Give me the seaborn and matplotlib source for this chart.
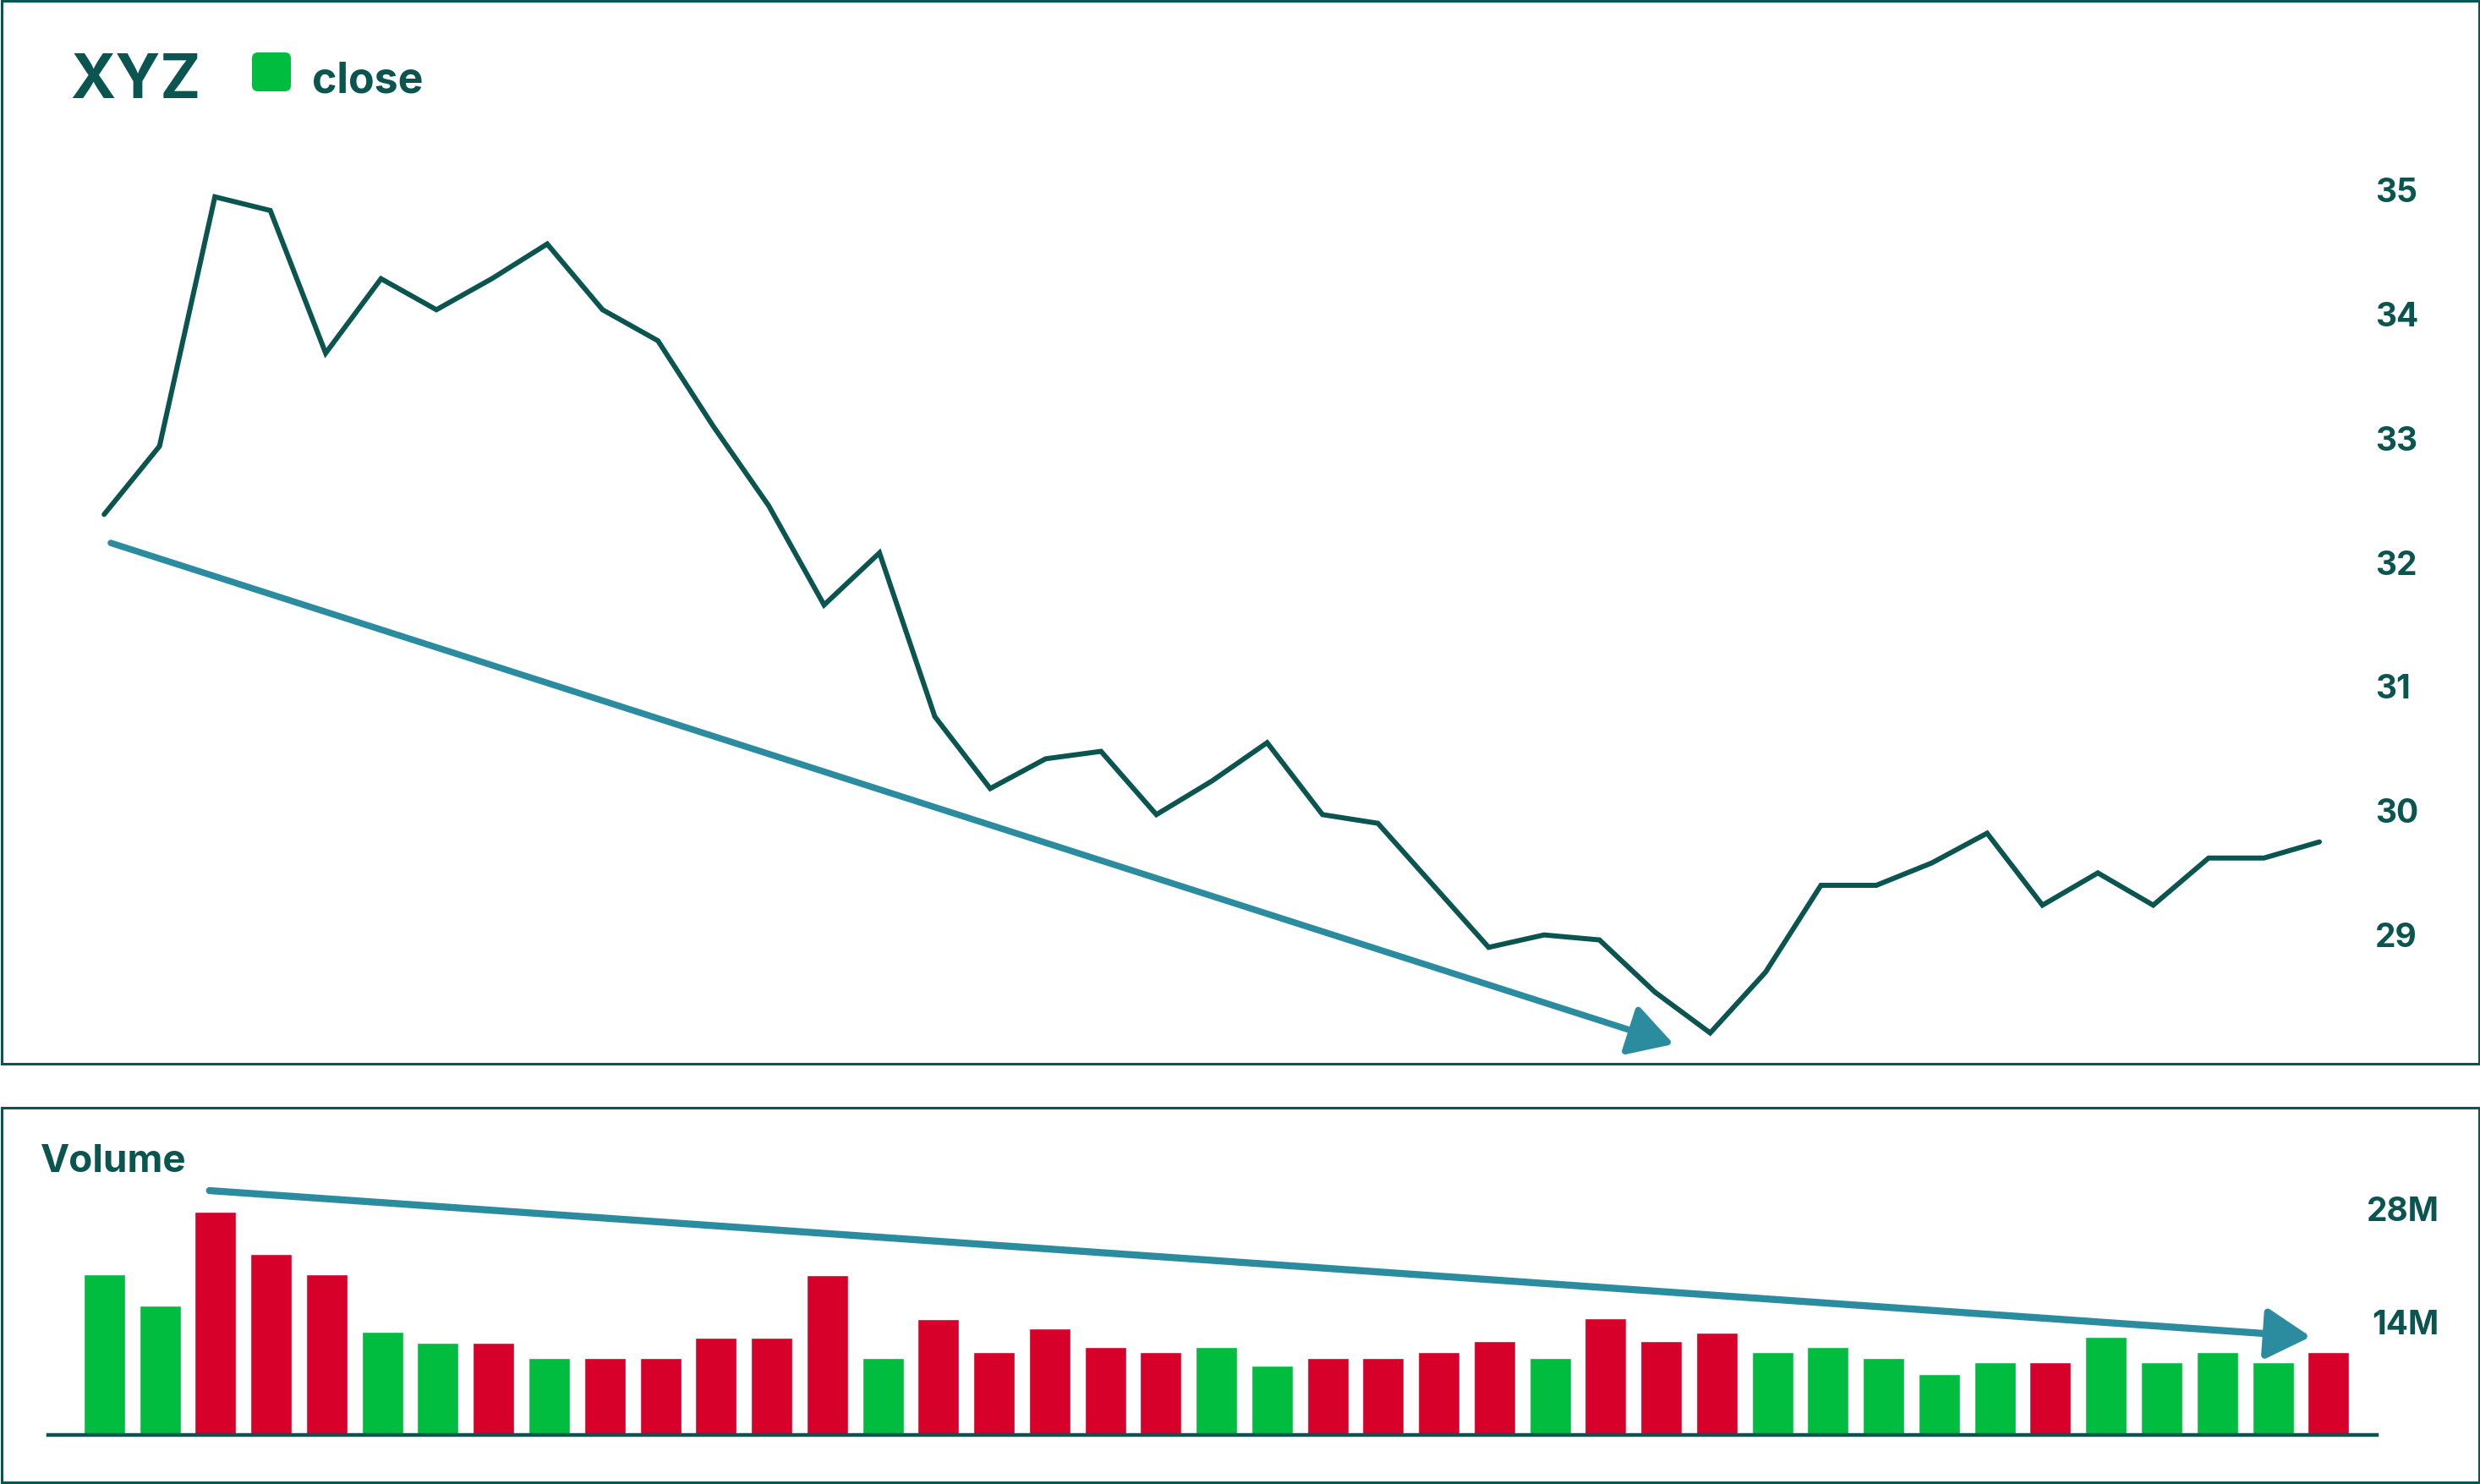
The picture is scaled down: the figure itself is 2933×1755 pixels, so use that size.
import matplotlib
matplotlib.use("Agg")
import matplotlib.pyplot as plt
import seaborn as sns
import numpy as np
import pandas as pd
from matplotlib.patches import FancyBboxPatch, Rectangle

# closing prices, one per session
close = [32.38, 32.93, 34.94, 34.83, 33.68, 34.28, 34.03, 34.28, 34.56, 34.03,
         33.78, 33.09, 32.45, 31.65, 32.07, 30.75, 30.17, 30.41, 30.47, 29.96,
         30.23, 30.54, 29.96, 29.89, 29.39, 28.89, 28.99, 28.95, 28.53, 28.20,
         28.69, 29.39, 29.39, 29.57, 29.81, 29.23, 29.49, 29.23, 29.61, 29.61,
         29.74]

# volume in millions
volume_m = [19.8, 15.9, 27.5, 22.3, 19.8, 12.7, 11.4, 11.4, 9.5, 9.5,
            9.5, 12.0, 12.0, 19.7, 9.5, 14.3, 10.2, 13.1, 10.8, 10.2,
            10.8, 8.5, 9.5, 9.5, 10.2, 11.6, 9.5, 14.4, 11.6, 12.6,
            10.2, 10.8, 9.5, 7.5, 9.0, 9.0, 12.1, 9.0, 10.2, 9.0,
            10.2]

move = ["up", "up", "down", "down", "down", "up", "up", "down", "up", "down",
        "down", "down", "down", "down", "up", "down", "down", "down", "down", "down",
        "up", "up", "down", "down", "down", "down", "up", "down", "down", "down",
        "up", "up", "up", "up", "up", "down", "up", "up", "up", "up",
        "down"]

price_ticks = [29, 30, 31, 32, 33, 34, 35]
volume_ticks = [14, 28]
volume_tick_labels = ["14M", "28M"]

# trend arrows drawn over the panels (start, tip)
price_trend_x = [0.12, 28.34]
price_trend_y = [32.15, 28.11]
volume_trend_x = [1.89, 39.68]
volume_trend_y = [30.1, 12.1]

DARK = "#0A5550"
GREEN = "#00BD40"
RED = "#D7002A"
ARROW = "#2B8CA0"

df = pd.DataFrame({"day": np.arange(len(close)),
                   "close": close,
                   "volume": volume_m,
                   "move": move})

sns.set_style("white")
plt.rcParams["font.family"] = ["Inter", "DejaVu Sans"]

W, H = 2933, 1756
fig = plt.figure(figsize=(W / 100, H / 100), dpi=100)

# panel frames
fig.add_artist(Rectangle((1.5 / W, 1 - 1259 / H), 2930 / W, 1257.5 / H,
                         transform=fig.transFigure, fill=False,
                         edgecolor=DARK, linewidth=2.2))
fig.add_artist(Rectangle((1.5 / W, 1 - 1754 / H), 2930 / W, 443 / H,
                         transform=fig.transFigure, fill=False,
                         edgecolor=DARK, linewidth=2.2))

# price panel
ax_p = fig.add_axes([57 / W, 1 - 1250 / H, 2743 / W, 1150 / H])
sns.lineplot(data=df, x="day", y="close", ax=ax_p, color=DARK, linewidth=4.3)
ax_p.lines[0].set_solid_joinstyle("miter")
ax_p.set_xlim(-1.01, 40.87)
ax_p.set_ylim(28.013, 35.852)
ax_p.set_yticks(price_ticks)
ax_p.set_yticklabels([str(t) for t in price_ticks])
ax_p.yaxis.tick_right()
ax_p.tick_params(axis="y", length=0, pad=6.5, labelsize=28,
                 labelcolor=DARK, labelright=True, labelleft=False)
for lab in ax_p.get_yticklabels():
    lab.set_fontweight("bold")
ax_p.set_xticks([])
ax_p.set_xlabel("")
ax_p.set_ylabel("")
for s in ax_p.spines.values():
    s.set_visible(False)
ax_p.patch.set_alpha(0)
ax_p.annotate("", xy=(price_trend_x[1], price_trend_y[1]),
              xytext=(price_trend_x[0], price_trend_y[0]),
              arrowprops=dict(arrowstyle="-|>,head_length=0.4,head_width=0.23",
                              color=ARROW, lw=5.5, mutation_scale=80,
                              shrinkA=0, shrinkB=0),
              annotation_clip=False)

# volume panel
ax_v = fig.add_axes([57 / W, 1 - 1698 / H, 2754 / W, 298 / H])
sns.barplot(data=df, x="day", y="volume", hue="move",
            palette={"up": GREEN, "down": RED}, dodge=False, width=0.745,
            saturation=1, errorbar=None, legend=False, ax=ax_v)
ax_v.set_xlim(-1.01, 40.87)
ax_v.set_ylim(0, 31.04)
ax_v.set_yticks(volume_ticks)
ax_v.set_yticklabels(volume_tick_labels)
ax_v.yaxis.tick_right()
ax_v.tick_params(axis="y", length=0, pad=53, labelsize=28,
                 labelcolor=DARK, labelright=True, labelleft=False)
for lab in ax_v.get_yticklabels():
    lab.set_fontweight("bold")
    lab.set_horizontalalignment("right")
ax_v.set_xticks([])
ax_v.set_xlabel("")
ax_v.set_ylabel("")
for s in ["top", "left", "right"]:
    ax_v.spines[s].set_visible(False)
ax_v.spines["bottom"].set_color(DARK)
ax_v.spines["bottom"].set_linewidth(3.2)
ax_v.patch.set_alpha(0)
ax_v.annotate("", xy=(volume_trend_x[1], volume_trend_y[1]),
              xytext=(volume_trend_x[0], volume_trend_y[0]),
              arrowprops=dict(arrowstyle="-|>,head_length=0.4,head_width=0.23",
                              color=ARROW, lw=6, mutation_scale=80,
                              shrinkA=0, shrinkB=0),
              annotation_clip=False)

# title, legend and panel label
fig.text(83 / W, 1 - 116 / H, "XYZ", fontsize=52, fontweight="bold",
         color=DARK, ha="left", va="baseline")
fig.add_artist(FancyBboxPatch((2.98 + 0.07, 17.56 - 1.09 + 0.07), 0.32, 0.32,
                              boxstyle="round,pad=0.07,rounding_size=0.07",
                              transform=fig.dpi_scale_trans,
                              facecolor=GREEN, edgecolor="none"))
fig.text(369 / W, 1 - 109 / H, "close", fontsize=36, fontweight="bold",
         color=DARK, ha="left", va="baseline")
fig.text(48 / W, 1 - 1386 / H, "Volume", fontsize=33, fontweight="bold",
         color=DARK, ha="left", va="baseline")

plt.savefig("out.png", dpi=100)
plt.close()
